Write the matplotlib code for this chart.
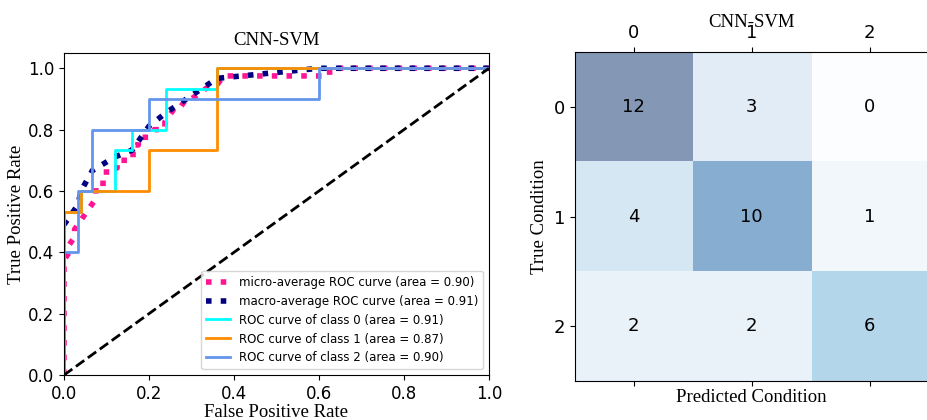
import numpy as np
import matplotlib
matplotlib.use("Agg")
from matplotlib import pyplot as plt

# ROC curves
fpr_micro = [0, 0, 0.0125, 0.0125, 0.025, 0.025, 0.0375, 0.05, 0.0625, 0.075, 0.075, 0.1, 0.1,
             0.125, 0.125, 0.1625, 0.1625, 0.175, 0.175, 0.2, 0.2125, 0.2375, 0.2375, 0.25,
             0.2625, 0.275, 0.2875, 0.3, 0.325, 0.35, 0.3625, 0.375, 0.625, 0.625, 1.0]
tpr_micro = [0, 0.375, 0.4, 0.425, 0.45, 0.475, 0.5, 0.525, 0.55, 0.575, 0.625, 0.625, 0.675,
             0.675, 0.7, 0.7, 0.75, 0.75, 0.775, 0.775, 0.8, 0.8, 0.825, 0.85,
             0.875, 0.875, 0.9, 0.9, 0.925, 0.95, 0.95, 0.975, 0.975, 1.0, 1.0]

fpr_macro = [0, 0.033, 0.04, 0.067, 0.12, 0.16, 0.2, 0.24, 0.36, 0.6, 1.0]
tpr_macro = [0.49, 0.555, 0.6, 0.667, 0.711, 0.733, 0.811, 0.855, 0.967, 1.0, 1.0]

fpr_c0 = [0, 0, 0.04, 0.04, 0.12, 0.12, 0.16, 0.16, 0.24, 0.24, 0.36, 0.36, 1.0]
tpr_c0 = [0, 0.533, 0.533, 0.6, 0.6, 0.733, 0.733, 0.8, 0.8, 0.933, 0.933, 1.0, 1.0]
fpr_c1 = [0, 0, 0.04, 0.04, 0.2, 0.2, 0.36, 0.36, 1.0]
tpr_c1 = [0, 0.533, 0.533, 0.6, 0.6, 0.733, 0.733, 1.0, 1.0]
fpr_c2 = [0, 0, 0.033, 0.033, 0.067, 0.067, 0.2, 0.2, 0.6, 0.6, 1.0]
tpr_c2 = [0, 0.4, 0.4, 0.6, 0.6, 0.8, 0.8, 0.9, 0.9, 1.0, 1.0]

auc_micro, auc_macro = 0.90, 0.91
auc_cls = [0.91, 0.87, 0.90]

# confusion matrix
cm = np.array([[12, 3, 0],
               [4, 10, 1],
               [2, 2, 6]])
classes = ['0', '1', '2']

serif = ['Liberation Serif', 'DejaVu Serif']

fig = plt.figure(figsize=(9.27, 4.2), dpi=100)

ax = fig.add_axes([0.069, 0.107, 0.4585, 0.767])
ax.plot(fpr_micro, tpr_micro, color='deeppink', linestyle=':', linewidth=4,
        label='micro-average ROC curve (area = {0:0.2f})'.format(auc_micro))
ax.plot(fpr_macro, tpr_macro, color='navy', linestyle=':', linewidth=4,
        label='macro-average ROC curve (area = {0:0.2f})'.format(auc_macro))
for f, t, c, i in zip([fpr_c0, fpr_c1, fpr_c2], [tpr_c0, tpr_c1, tpr_c2],
                      ['aqua', 'darkorange', 'cornflowerblue'], range(3)):
    ax.plot(f, t, color=c, lw=2,
            label='ROC curve of class {0} (area = {1:0.2f})'.format(i, auc_cls[i]))
ax.plot([0, 1], [0, 1], 'k--', lw=2)
ax.set_xlim(0.0, 1.0)
ax.set_ylim(0.0, 1.05)
ax.tick_params(labelsize=12)
ax.set_xlabel('False Positive Rate', fontsize=13.5, family=serif, labelpad=1)
ax.set_ylabel('True Positive Rate', fontsize=13.5, family=serif, labelpad=2)
ax.set_title('CNN-SVM', fontsize=13.5, family=serif)
ax.legend(loc='lower right', fontsize=8.5)

ax2 = fig.add_axes([0.620, 0.093, 0.382, 0.783])
ax2.matshow(cm, cmap=plt.cm.Blues, alpha=0.5, aspect='auto')
for i in range(cm.shape[0]):
    for j in range(cm.shape[1]):
        ax2.text(j, i, str(cm[i, j]), va='center', ha='center', fontsize=13)
ax2.set_xticks(range(3))
ax2.set_yticks(range(3))
ax2.set_xticklabels(classes)
ax2.set_yticklabels(classes)
ax2.tick_params(labelsize=13)
ax2.set_xlabel('Predicted Condition', fontsize=13.5, family=serif, labelpad=2)
ax2.set_ylabel('True Condition', fontsize=13.5, family=serif)
# the title sits over the top tick labels, as in the original
ax2.set_title('CNN-SVM', fontsize=13.5, family=serif, y=1.075, pad=0)

fig.savefig('out.png', dpi=100)
